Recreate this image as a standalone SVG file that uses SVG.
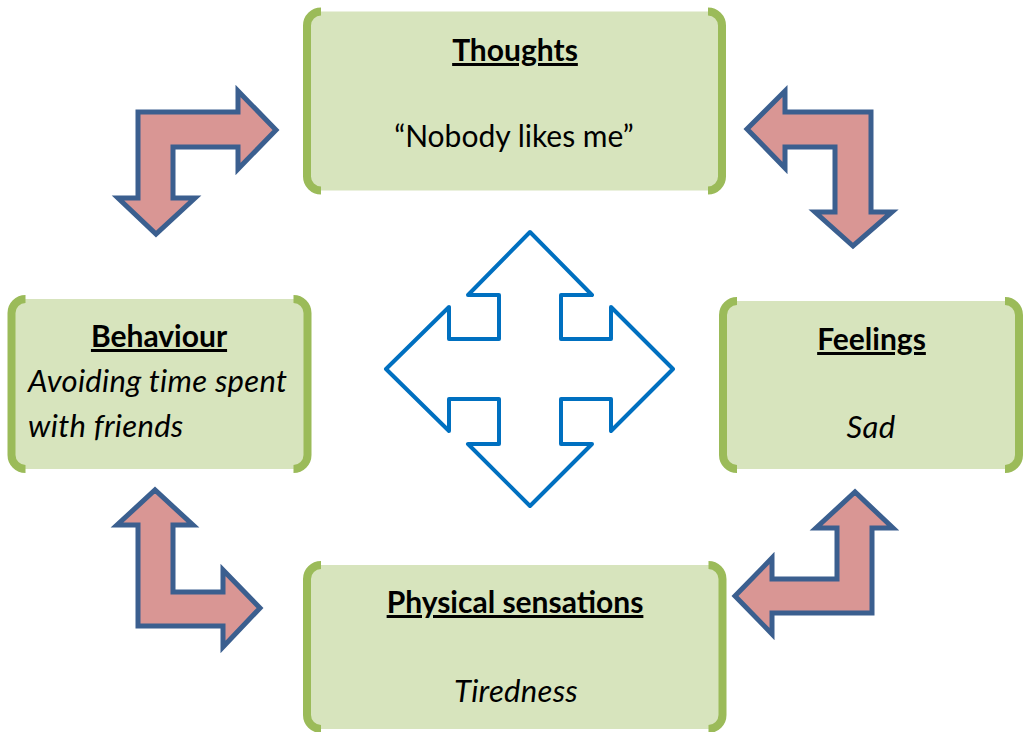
<svg xmlns="http://www.w3.org/2000/svg" width="1029" height="732" viewBox="0 0 1029 732">
<style>
.fill{fill:#d7e4bd;stroke:none}
.br{fill:none;stroke:#9bbb59;stroke-width:8}
.ttl{font-family:Lato,"Open Sans",sans-serif;font-weight:bold;font-size:30px;fill:#000;text-anchor:middle;text-decoration:underline}
.body{font-family:Lato,"Open Sans",sans-serif;font-size:30px;fill:#000}
.it{font-style:italic;font-size:31px;letter-spacing:0.3px}
.mid{text-anchor:middle}
.bent{fill:#d99694;stroke:#3b5f8f;stroke-width:5;stroke-linejoin:miter}
.cross{fill:#fff;stroke:#0070c0;stroke-width:4;stroke-linejoin:round}
</style>
<rect width="1029" height="732" fill="#fff"/>
<g id="connectors">
<path class="bent" d="M138,112 L238,112 L238,91 L276,130 L238,169 L238,147 L173,147 L173,198 L195,198 L156,234 L118,198 L138,198 Z"/>
<path class="bent" d="M871,112 L785,112 L785,91 L747,129 L785,168 L785,147 L835,147 L835,212 L815,212 L853,246 L892,212 L871,212 Z"/>
<path class="bent" d="M138,626 L138,525 L117,525 L155,490 L193,525 L173,525 L173,592 L223,592 L223,570 L260,608 L223,647 L223,626 Z"/>
<path class="bent" d="M872,613 L872,528 L893,528 L855,492 L816,528 L837,528 L837,579 L772,579 L772,558 L735,596 L772,634 L772,613 Z"/>
<path class="cross" d="M530,232 L592,295 L561,295 L561,339 L611,339 L611,307 L673,369 L611,431 L611,399 L561,399 L561,444 L592,444 L530,506 L468,444 L499,444 L499,399 L449,399 L449,431 L386,369 L449,307 L449,339 L499,339 L499,295 L468,295 Z"/>
</g>
<g id="thoughts">
<rect class="fill" x="307" y="11.5" width="415" height="179" rx="14"/>
<path class="br" d="M321,11.5 A14,14 0 0 0 307,25.5 V176.5 A14,14 0 0 0 321,190.5"/>
<path class="br" d="M708,11.5 A14,14 0 0 1 722,25.5 V176.5 A14,14 0 0 1 708,190.5"/>
<text class="ttl" x="515" y="61">Thoughts</text>
<text class="body mid" x="514" y="147">“Nobody likes me”</text>
</g>
<g id="behaviour">
<rect class="fill" x="11.5" y="299" width="296" height="170" rx="14"/>
<path class="br" d="M25.5,299 A14,14 0 0 0 11.5,313 V455 A14,14 0 0 0 25.5,469"/>
<path class="br" d="M293.5,299 A14,14 0 0 1 307.5,313 V455 A14,14 0 0 1 293.5,469"/>
<text class="ttl" x="159" y="347">Behaviour</text>
<text class="body it" x="28" y="392">Avoiding time spent</text>
<text class="body it" x="28" y="437">with friends</text>
</g>
<g id="feelings">
<rect class="fill" x="723" y="301" width="296" height="168" rx="14"/>
<path class="br" d="M737,301 A14,14 0 0 0 723,315 V455 A14,14 0 0 0 737,469"/>
<path class="br" d="M1005,301 A14,14 0 0 1 1019,315 V455 A14,14 0 0 1 1005,469"/>
<text class="ttl" x="871.5" y="350">Feelings</text>
<text class="body it mid" x="871" y="438">Sad</text>
</g>
<g id="physical">
<rect class="fill" x="307" y="565" width="415.5" height="164" rx="14"/>
<path class="br" d="M321,565 A14,14 0 0 0 307,579 V715 A14,14 0 0 0 321,729"/>
<path class="br" d="M708.5,565 A14,14 0 0 1 722.5,579 V715 A14,14 0 0 1 708.5,729"/>
<text class="ttl" x="515" y="613">Physical sensations</text>
<text class="body it mid" x="516" y="702">Tiredness</text>
</g>
</svg>
